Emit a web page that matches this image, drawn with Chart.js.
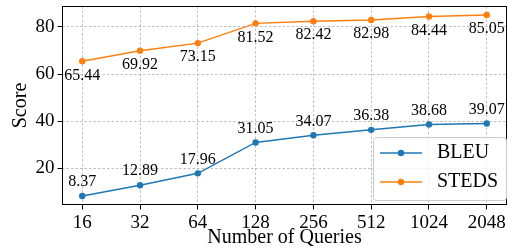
<!DOCTYPE html>
<html>
<head>
<meta charset="utf-8">
<script src="https://cdn.jsdelivr.net/npm/chart.js@4/dist/chart.umd.min.js"></script>
<style>
  html, body { margin: 0; padding: 0; background: #fff; }
  canvas { display: block; }
</style>
</head>
<body>
<canvas id="c" width="516" height="251"></canvas>
<script>
const categories = ['16', '32', '64', '128', '256', '512', '1024', '2048'];
const bleu = [8.37, 12.89, 17.96, 31.05, 34.07, 36.38, 38.68, 39.07];
const steds = [65.44, 69.92, 73.15, 81.52, 82.42, 82.98, 84.44, 85.05];
const yTicks = [20, 40, 60, 80];
const seriesNames = ['BLEU', 'STEDS'];
const seriesColors = ['#1f77b4', '#ff7f0e'];
const labelSide = [-1, 1]; // BLEU labels above, STEDS labels below

const FONT = '"Liberation Serif", "Times New Roman", serif';
Chart.defaults.font.family = FONT;
Chart.defaults.color = '#000';

const toPoints = arr => arr.map((v, i) => ({ x: i, y: v }));

const frameAndLabels = {
  id: 'frameAndLabels',
  afterDatasetsDraw(chart) {
    const ctx = chart.ctx;
    const a = chart.chartArea;
    ctx.save();
    ctx.font = '16px ' + FONT;
    ctx.fillStyle = '#000';
    ctx.textAlign = 'center';
    ctx.textBaseline = 'middle';
    chart.data.datasets.forEach((ds, di) => {
      const meta = chart.getDatasetMeta(di);
      meta.data.forEach((pt, i) => {
        const v = ds.data[i].y;
        ctx.fillText(v.toFixed(2), pt.x, pt.y + labelSide[di] * 14);
      });
    });
    ctx.restore();
    ctx.save();
    ctx.strokeStyle = '#000';
    ctx.lineWidth = 1;
    ctx.strokeRect(Math.round(a.left) + 0.5, Math.round(a.top) + 0.5,
      Math.round(a.right - a.left) - 1, Math.round(a.bottom - a.top) - 1);
    ctx.restore();
  },
  afterDraw(chart) {
    const ctx = chart.ctx;
    const a = chart.chartArea;
    const bx = a.right - 134, by = a.bottom - 68, bw = 134, bh = 64;
    ctx.save();
    ctx.beginPath();
    ctx.roundRect(bx + 0.5, by + 0.5, bw - 1, bh - 1, 3);
    ctx.fillStyle = 'rgba(255,255,255,0.8)';
    ctx.fill();
    ctx.strokeStyle = '#cccccc';
    ctx.lineWidth = 1;
    ctx.stroke();
    chart.data.datasets.forEach((ds, di) => {
      const y = by + 16 + di * 29;
      ctx.strokeStyle = ds.borderColor;
      ctx.lineWidth = 1.5;
      ctx.beginPath();
      ctx.moveTo(bx + 7, y);
      ctx.lineTo(bx + 49, y);
      ctx.stroke();
      ctx.fillStyle = ds.borderColor;
      ctx.beginPath();
      ctx.arc(bx + 28, y, 3.2, 0, Math.PI * 2);
      ctx.fill();
      ctx.fillStyle = '#000';
      ctx.font = '20px ' + FONT;
      ctx.textAlign = 'left';
      ctx.textBaseline = 'middle';
      ctx.fillText(ds.label, bx + 64, y);
    });
    ctx.restore();
  }
};

const gridOpts = {
  color: '#b0b0b0',
  lineWidth: 0.8,
  tickColor: '#000',
  tickLength: 4.5,
  tickWidth: 1,
  tickBorderDash: [20, 0]
};

new Chart(document.getElementById('c'), {
  type: 'line',
  data: {
    datasets: [bleu, steds].map((arr, di) => ({
      label: seriesNames[di],
      data: toPoints(arr),
      borderColor: seriesColors[di],
      backgroundColor: seriesColors[di],
      borderWidth: 1.5,
      pointRadius: 3.2,
      pointBorderWidth: 0,
      pointBackgroundColor: seriesColors[di],
      tension: 0,
      fill: false
    }))
  },
  options: {
    responsive: false,
    animation: false,
    events: [],
    layout: { padding: { left: 0, right: 9, top: 6, bottom: 0 } },
    plugins: { legend: { display: false }, tooltip: { enabled: false } },
    scales: {
      x: {
        type: 'linear',
        min: -0.35,
        max: categories.length - 1 + 0.35,
        afterBuildTicks: s => { s.ticks = categories.map((c, i) => ({ value: i })); },
        afterFit: s => { s.height = 46; s.paddingLeft = 0; s.paddingRight = 0; },
        ticks: {
          font: { size: 19 },
          padding: 2,
          maxRotation: 0,
          autoSkip: false,
          callback: v => categories[v]
        },
        grid: gridOpts,
        border: { display: false, dash: [2.5, 2] },
        title: {
          display: true,
          text: 'Number of Queries',
          font: { size: 20 },
          padding: { top: 0, bottom: 1.5 }
        }
      },
      y: {
        type: 'linear',
        min: 4.5355,
        max: 88.8845,
        afterBuildTicks: s => { s.ticks = yTicks.map(v => ({ value: v })); },
        afterFit: s => { s.width = 62; s.paddingTop = 0; s.paddingBottom = 0; },
        ticks: { font: { size: 19 }, padding: 3 },
        grid: gridOpts,
        border: { display: false, dash: [2.5, 2] },
        title: {
          display: true,
          text: 'Score',
          font: { size: 20 },
          padding: { top: 9, bottom: 0 }
        }
      }
    }
  },
  plugins: [frameAndLabels]
});
</script>
</body>
</html>
